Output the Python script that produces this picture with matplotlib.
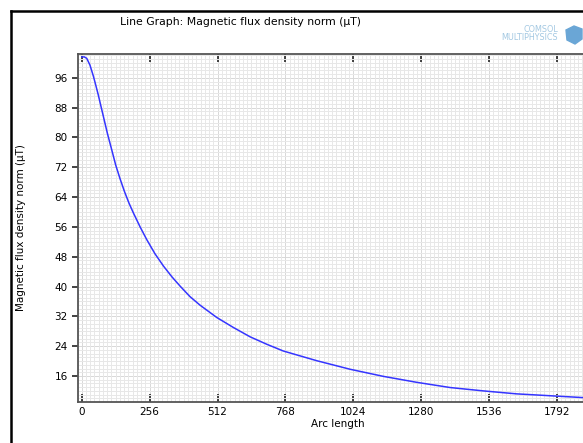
import numpy as np
import matplotlib.pyplot as plt
from matplotlib.lines import Line2D
from matplotlib.patches import Polygon
from matplotlib.ticker import MultipleLocator

# values
arc_length = [0, 10, 19, 31, 44, 50, 62, 73, 81, 97, 113, 128, 144, 161, 178,
              195, 220, 245, 276, 308, 340, 371, 408, 446, 509, 572, 635, 698,
              760, 886, 1012, 1137, 1263, 1389, 1514, 1640, 1766, 1890]
flux_norm = [101.6, 101.6, 101.2, 99.4, 96.4, 94.8, 91.5, 88.2, 85.8, 81.0,
             76.7, 72.6, 69.0, 65.5, 62.4, 59.7, 56.0, 52.6, 48.8, 45.5, 42.6,
             40.1, 37.3, 35.0, 31.7, 29.0, 26.5, 24.5, 22.7, 20.1, 17.8, 15.9,
             14.3, 12.9, 12.0, 11.2, 10.7, 10.2]
x_ticks = [0, 256, 512, 768, 1024, 1280, 1536, 1792]
y_ticks = [16, 24, 32, 40, 48, 56, 64, 72, 80, 88, 96]

W, H = 583, 443
fig = plt.figure(figsize=(W / 100, H / 100), dpi=100)
ax = fig.add_axes([77.5 / W, 41.3 / H, 521.4 / W, 347.4 / H])

ax.plot(arc_length, flux_norm, color='#3535ff', lw=1.1, zorder=3)
ax.set_xlim(-16, 1950)
ax.set_ylim(9.1, 102.3)

ax.set_xticks(x_ticks)
ax.set_yticks(y_ticks)
ax.xaxis.set_minor_locator(MultipleLocator(16))
ax.yaxis.set_minor_locator(MultipleLocator(1))
ax.grid(which='minor', color='#e8e8e8', lw=0.7)
ax.grid(which='major', visible=False)
for v in np.arange(0, 1950, 64):
    ax.axvline(v, color='#d8d8d8', lw=0.7, zorder=0.5)
for v in np.arange(12, 102, 4):
    ax.axhline(v, color='#d8d8d8', lw=0.7, zorder=0.5)

ax.tick_params(axis='x', which='major', direction='in', top=True, length=6,
               width=1.2, color='#222222', labelsize=7.5, pad=4)
ax.tick_params(axis='y', which='major', direction='out', length=4,
               width=1.2, color='#222222', labelsize=7.5, pad=3)
ax.tick_params(which='minor', length=0)
for side in ['left', 'bottom', 'top']:
    ax.spines[side].set_color('#555555')
    ax.spines[side].set_linewidth(1.3)
ax.spines['right'].set_visible(False)

ax.set_xlabel('Arc length', fontsize=7.5, labelpad=1)
fig.text(21 / W, 1 - 228 / H, 'Magnetic flux density norm (µT)', fontsize=7.5,
         rotation=90, ha='center', va='center')
fig.text(240 / W, 1 - 22 / H, 'Line Graph: Magnetic flux density norm (µT)',
         fontsize=7.8, ha='center', va='center')

# COMSOL logo
fig.text(558 / W, 1 - 29 / H, 'COMSOL', fontsize=5.8, color='#a3c8e2',
         ha='right', va='center')
fig.text(558 / W, 1 - 38 / H, 'MULTIPHYSICS', fontsize=5.8, color='#a3c8e2',
         ha='right', va='center')
cube = Polygon([(566 / W, 1 - 30 / H), (574 / W, 1 - 26 / H), (582 / W, 1 - 29 / H),
                (582 / W, 1 - 39 / H), (575 / W, 1 - 44 / H), (567 / W, 1 - 40 / H)],
               closed=True, transform=fig.transFigure, color='#6aa6d6')
fig.patches.append(cube)

# outer frame
fig.add_artist(Line2D([10.5 / W, 1.0], [1 - 11 / H, 1 - 11 / H], color='black', lw=1.8))
fig.add_artist(Line2D([10.5 / W, 10.5 / W], [0, 1 - 11 / H], color='black', lw=1.8))

fig.savefig('out.png', dpi=100)
